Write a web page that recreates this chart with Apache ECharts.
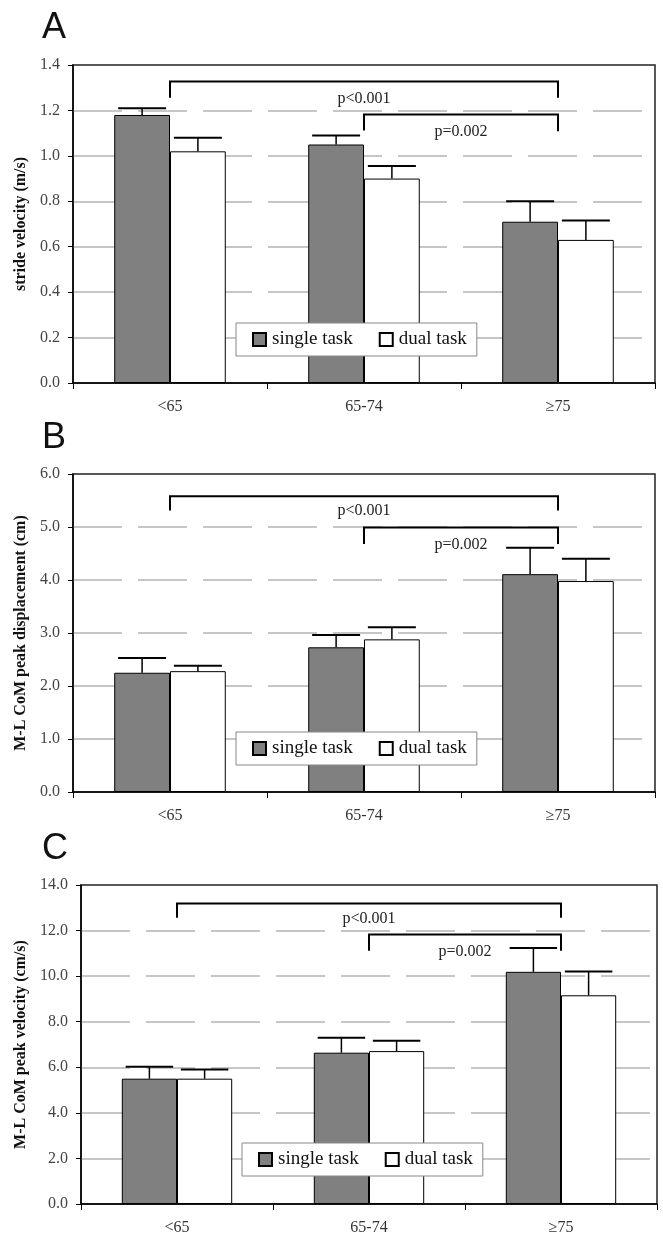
<!DOCTYPE html>
<html>
<head>
<meta charset="utf-8">
<script src="https://cdn.jsdelivr.net/npm/echarts@6/dist/echarts.min.js"></script>
<style>
html,body{margin:0;padding:0;background:#fff;}
#chart{width:663px;height:1242px;}
</style>
</head>
<body>
<div id="chart"></div>
<script>
// ---- data ----
const categories = ['<65', '65-74', '\u226575'];
const panelLabels = ['A', 'B', 'C'];
const yAxisNames = ['stride velocity (m/s)', 'M-L CoM peak displacement (cm)', 'M-L CoM peak velocity (cm/s)'];
const seriesNames = ['single task', 'dual task'];

const singleA = [1.18, 1.05, 0.71];
const singleAUpper = [1.21, 1.09, 0.80];
const dualA = [1.02, 0.90, 0.63];
const dualAUpper = [1.08, 0.955, 0.715];

const singleB = [2.25, 2.73, 4.11];
const singleBUpper = [2.53, 2.96, 4.61];
const dualB = [2.28, 2.88, 3.98];
const dualBUpper = [2.38, 3.11, 4.40];

const singleC = [5.50, 6.64, 10.19];
const singleCUpper = [6.02, 7.30, 11.24];
const dualC = [5.50, 6.71, 9.16];
const dualCUpper = [5.90, 7.17, 10.20];

const yMax = [1.4, 6, 14];
const yInterval = [0.2, 1, 2];

// brackets: [fromCategory, toCategory, topValue, leftEndValue, rightEndValue]
const bracketsA = [[0, 2, 1.327, 1.256, 1.256], [1, 2, 1.182, 1.112, 1.108]];
const bracketsB = [[0, 2, 5.58, 5.31, 5.31], [1, 2, 4.99, 4.68, 4.68]];
const bracketsC = [[0, 2, 13.19, 12.56, 12.56], [1, 2, 11.83, 11.11, 11.11]];
const bracketLabels = ['p<0.001', 'p=0.002'];
const bracketTextA = [1.25, 1.107];
const bracketTextB = [5.30, 4.66];
const bracketTextC = [12.53, 11.06];

// ---- layout / style ----
const BAR_FRAC = 0.2875;
const SERIF = 'Liberation Serif';
const grids = [
  {left: 73, top: 65, width: 582, height: 318},
  {left: 73, top: 474, width: 582, height: 318},
  {left: 81, top: 885, width: 576, height: 319}
];
const titleTops = [5, 415, 826];
const legendPos = [{left: 236, top: 323}, {left: 236, top: 732}, {left: 242, top: 1143}];
const nameGaps = [44, 44, 51];

const panels = [
  {single: singleA, singleU: singleAUpper, dual: dualA, dualU: dualAUpper, br: bracketsA, bt: bracketTextA},
  {single: singleB, singleU: singleBUpper, dual: dualB, dualU: dualBUpper, br: bracketsB, bt: bracketTextB},
  {single: singleC, singleU: singleCUpper, dual: dualC, dualU: dualCUpper, br: bracketsC, bt: bracketTextC}
];

function errRender(sign) {
  return function (params, api) {
    const x = api.value(0), v = api.value(1), u = api.value(2);
    const band = api.size([1, 0])[0];
    const bw = band * BAR_FRAC;
    const p0 = api.coord([x, v]);
    const p1 = api.coord([x, u]);
    const cx = p0[0] + sign * bw / 2;
    const cap = bw * 0.43;
    return {
      type: 'group',
      children: [
        {type: 'line', shape: {x1: cx, y1: p0[1], x2: cx, y2: p1[1]}, style: {stroke: '#000', lineWidth: 1.5}},
        {type: 'line', shape: {x1: cx - cap, y1: p1[1], x2: cx + cap, y2: p1[1]}, style: {stroke: '#000', lineWidth: 2}}
      ]
    };
  };
}

function bracketRender(textVals) {
  return function (params, api) {
    const a = api.value(0), b = api.value(1), top = api.value(2), e0 = api.value(3), e1 = api.value(4);
    const pA0 = api.coord([a, e0]);
    const pAT = api.coord([a, top]);
    const pBT = api.coord([b, top]);
    const pB1 = api.coord([b, e1]);
    const ty = api.coord([a, textVals[params.dataIndex]])[1];
    return {
      type: 'group',
      children: [
        {type: 'polyline', shape: {points: [pA0, pAT, pBT, pB1]}, style: {stroke: '#000', lineWidth: 2, fill: null}},
        {type: 'text', x: (pAT[0] + pBT[0]) / 2, y: ty,
          style: {text: bracketLabels[params.dataIndex], fill: '#222', font: '16px "' + SERIF + '"', align: 'center', verticalAlign: 'middle'}}
      ]
    };
  };
}

const option = {
  animation: false,
  backgroundColor: '#fff',
  title: panelLabels.map((t, i) => ({
    text: t, left: 37, top: titleTops[i],
    textStyle: {fontFamily: 'Liberation Sans', fontSize: 36, fontWeight: 'normal', color: '#111'}
  })),
  legend: legendPos.map((p, i) => ({
    data: seriesNames,
    left: p.left, top: p.top,
    orient: 'horizontal',
    backgroundColor: '#fff',
    borderColor: '#888', borderWidth: 1,
    padding: [7, 10, 7, 16],
    itemGap: 26, itemWidth: 13, itemHeight: 13,
    icon: 'rect',
    selectedMode: false,
    textStyle: {fontFamily: SERIF, fontSize: 19, color: '#111', padding: [0, 0, 0, 1]}
  })),
  grid: grids.map(g => Object.assign({show: true, borderColor: '#222', borderWidth: 1.5, backgroundColor: 'transparent'}, g)),
  xAxis: grids.map((g, i) => ({
    type: 'category', gridIndex: i, data: categories,
    axisLine: {lineStyle: {color: '#000', width: 1.5}},
    axisTick: {show: true, length: 6, lineStyle: {color: '#000', width: 1}},
    axisLabel: {fontFamily: SERIF, fontSize: 16, color: '#333', margin: 16},
    splitLine: {show: false}
  })),
  yAxis: grids.map((g, i) => ({
    type: 'value', gridIndex: i, min: 0, max: yMax[i], interval: yInterval[i],
    name: yAxisNames[i], nameLocation: 'middle', nameGap: nameGaps[i], nameRotate: 90,
    nameTextStyle: {fontFamily: SERIF, fontSize: 16, fontWeight: 'bold', color: '#111'},
    axisLine: {show: true, lineStyle: {color: '#000', width: 1.5}},
    axisTick: {show: true, length: 5, lineStyle: {color: '#000', width: 1}},
    axisLabel: {fontFamily: SERIF, fontSize: 16, color: '#444', margin: 13,
      formatter: v => v.toFixed(1)},
    splitLine: {show: true, showMinLine: false, showMaxLine: false,
      lineStyle: {color: '#b4b4b4', width: 1.5, type: [49, 16]}}
  })),
  series: []
};

panels.forEach((p, i) => {
  option.series.push({
    name: seriesNames[0], type: 'bar', xAxisIndex: i, yAxisIndex: i,
    data: p.single, barWidth: (BAR_FRAC * 100) + '%', barGap: '0%',
    itemStyle: {color: '#808080', borderColor: '#000', borderWidth: 1}
  });
  option.series.push({
    name: seriesNames[1], type: 'bar', xAxisIndex: i, yAxisIndex: i,
    data: p.dual, barWidth: (BAR_FRAC * 100) + '%', barGap: '0%',
    itemStyle: {color: '#ffffff', borderColor: '#000', borderWidth: 1}
  });
  option.series.push({
    name: 'err-single-' + i, type: 'custom', xAxisIndex: i, yAxisIndex: i, z: 3,
    data: categories.map((c, k) => [k, p.single[k], p.singleU[k]]),
    encode: {x: 0, y: [1, 2]},
    renderItem: errRender(-1)
  });
  option.series.push({
    name: 'err-dual-' + i, type: 'custom', xAxisIndex: i, yAxisIndex: i, z: 3,
    data: categories.map((c, k) => [k, p.dual[k], p.dualU[k]]),
    encode: {x: 0, y: [1, 2]},
    renderItem: errRender(1)
  });
  option.series.push({
    name: 'brackets-' + i, type: 'custom', xAxisIndex: i, yAxisIndex: i, z: 3,
    data: p.br,
    encode: {x: [0, 1], y: [2, 3, 4]},
    renderItem: bracketRender(p.bt)
  });
});

const chart = echarts.init(document.getElementById('chart'), null, {renderer: 'canvas'});
chart.setOption(option);
</script>
</body>
</html>
